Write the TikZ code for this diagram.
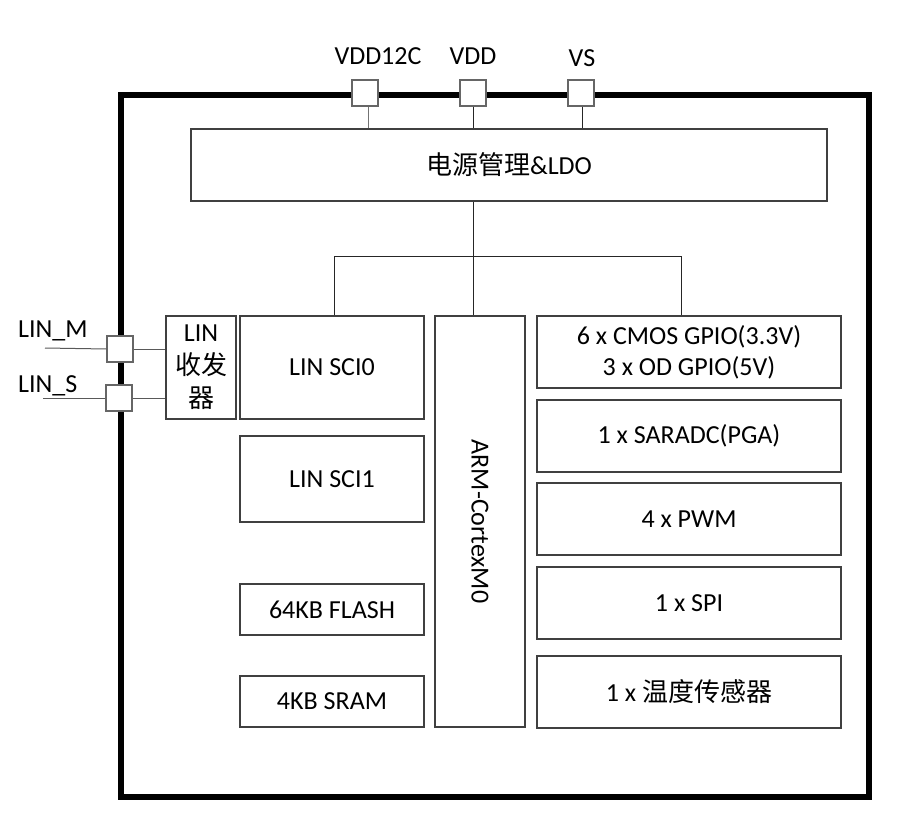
\documentclass[tikz,border=0pt]{standalone}
\usepackage{fontspec}
\setmainfont{Carlito}
\newfontfamily\cjk{Noto Sans CJK SC}
\begin{document}
\begin{tikzpicture}[x=1pt,y=-1pt,font=\fontsize{26}{31}\selectfont,
  blk/.style={draw=black!75,line width=1.2pt,fill=white,inner sep=0pt,align=center},
  pin/.style={draw=black!60,line width=1.3pt,fill=white,minimum size=26pt,inner sep=0pt},
  wire/.style={line width=1pt,draw=black!85},
  lbl/.style={inner sep=0pt}]
\useasboundingbox (0,0) rectangle (917,829);
% outer chip border
\draw[line width=6pt] (121,95) rectangle (869,797);
% blocks
\node[blk,minimum width=636pt,minimum height=72pt] (pwr) at (509,165) {{\cjk 电源管理}\&LDO};
\node[blk,minimum width=184pt,minimum height=103pt] (sci0) at (332,367.5) {LIN SCI0};
\node[blk,minimum width=184pt,minimum height=86pt] (sci1) at (332,479) {LIN SCI1};
\node[blk,minimum width=184pt,minimum height=51pt] (flash) at (332,609.5) {64KB FLASH};
\node[blk,minimum width=184pt,minimum height=51pt] (sram) at (332,701.5) {4KB SRAM};
\node[blk,minimum width=90pt,minimum height=411pt] (arm) at (480,521.5) {};
\node[rotate=-90,lbl] (armt) at (arm.center) {ARM-CortexM0};
\node[blk,minimum width=304pt,minimum height=72pt] (gpio) at (689,352) {6 x CMOS GPIO(3.3V)\\3 x OD GPIO(5V)};
\node[blk,minimum width=304pt,minimum height=72pt] (adc) at (689,436) {1 x SARADC(PGA)};
\node[blk,minimum width=304pt,minimum height=72pt] (pwm) at (689,519) {4 x PWM};
\node[blk,minimum width=304pt,minimum height=72pt] (spi) at (689,603) {1 x SPI};
\node[blk,minimum width=304pt,minimum height=72pt] (temp) at (689,692) {1 x {\cjk 温度传感器}};
\node[blk,minimum width=70pt,minimum height=103pt,font=\fontsize{26}{33}\selectfont] (trx) at (201,367.5) {LIN\\{\cjk 收发}\\{\cjk 器}};
% pins
\node[pin] (p1) at (365,93) {};
\node[pin] (p2) at (473,93) {};
\node[pin] (p3) at (581,93) {};
\node[pin] (pm) at (120,349) {};
\node[pin] (ps) at (119,398) {};
% pin labels
\node[lbl] (t1) at (378,56) {VDD12C};
\node[lbl] (t2) at (473,56) {VDD};
\node[lbl] (t3) at (582,58) {VS};
\node[lbl,anchor=west] (tm) at (18,331) {LIN\_M};
\node[lbl,anchor=west] (ts) at (18,386) {LIN\_S};
% supply wires
\coordinate (c1) at (368,0);
\coordinate (c3) at (582,0);
\draw[wire,draw=black!55] (c1 |- p1.south) -- (c1 |- pwr.north);
\draw[wire] (p2.south) -- (p2.south |- pwr.north);
\draw[wire] (c3 |- p3.south) -- (c3 |- pwr.north);
% internal bus
\coordinate (j) at (473,256);
\coordinate (bl) at (334,256);
\coordinate (br) at (681,256);
\draw[wire] (j |- pwr.south) -- (j |- arm.north);
\draw[wire] (bl |- sci0.north) -- (bl) -- (br) -- (br |- gpio.north);
% LIN wires
\coordinate (lm) at (45,348);
\coordinate (ls) at (43,398);
\draw[wire,draw=black!65] (lm) -- (pm.west);
\draw[wire,draw=black!65] (pm.east) -- (pm.east -| trx.west);
\draw[wire,draw=black!65] (ls) -- (ps.west);
\draw[wire,draw=black!65] (ps.east) -- (ps.east -| trx.west);
\end{tikzpicture}
\end{document}
